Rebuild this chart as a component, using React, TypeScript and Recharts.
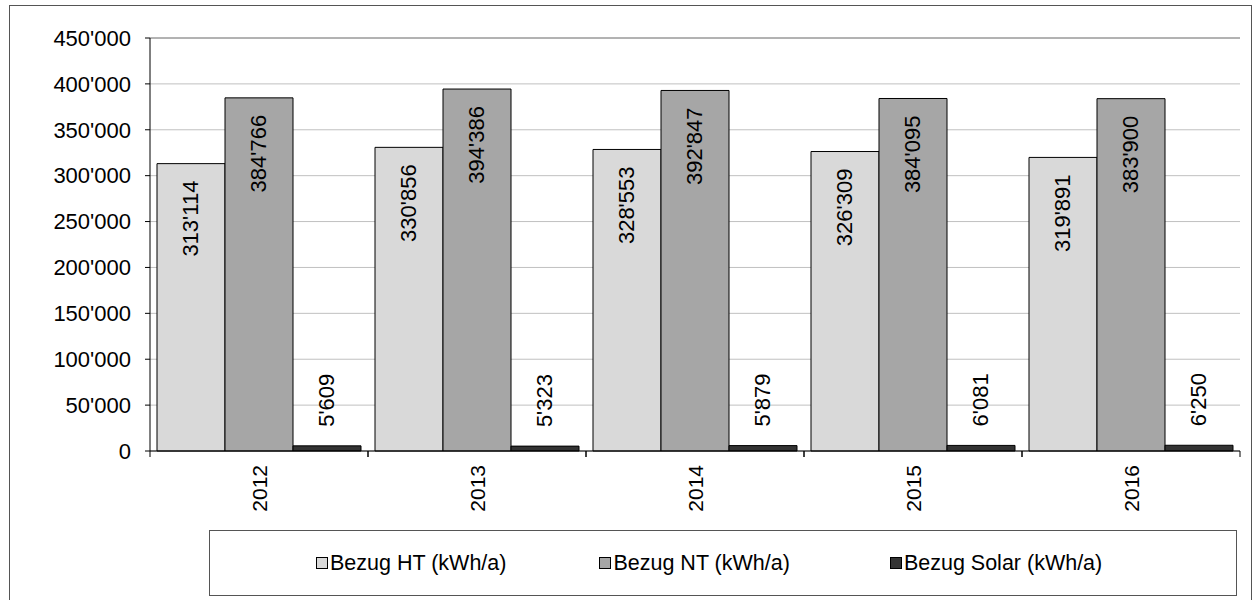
import React from "react";
import { BarChart, Bar, XAxis, YAxis, CartesianGrid, LabelList, ReferenceLine } from "recharts";

const years = ["2012", "2013", "2014", "2015", "2016"];
const bezugHT = [313114, 330856, 328553, 326309, 319891];
const bezugNT = [384766, 394386, 392847, 384095, 383900];
const bezugSolar = [5609, 5323, 5879, 6081, 6250];
const yTicks = [0, 50000, 100000, 150000, 200000, 250000, 300000, 350000, 400000, 450000];
const seriesKeys = ["ht", "nt", "solar"];
const seriesNames = ["Bezug HT (kWh/a)", "Bezug NT (kWh/a)", "Bezug Solar (kWh/a)"];
const seriesColors = ["#d9d9d9", "#a6a6a6", "#333333"];

const data = years.map((y, i) => ({ year: y, ht: bezugHT[i], nt: bezugNT[i], solar: bezugSolar[i] }));

const FONT = "'Liberation Sans', Arial, Helvetica, sans-serif";
const FS = 22;

const fmt = (v: number) => String(v).replace(/\B(?=(\d{3})+(?!\d))/g, "'");

const InsideLabel = (p: any) => {
  const cx = p.x + p.width / 2;
  const y = p.y + 17;
  return (
    <text x={cx} y={y} transform={`rotate(-90 ${cx} ${y})`} textAnchor="end" dominantBaseline="central" fontSize={FS} fontFamily={FONT} fill="#000">
      {fmt(p.value)}
    </text>
  );
};

const AboveLabel = (p: any) => {
  const cx = p.x + p.width / 2;
  const y = p.y - 19;
  return (
    <text x={cx} y={y} transform={`rotate(-90 ${cx} ${y})`} textAnchor="start" dominantBaseline="central" fontSize={FS} fontFamily={FONT} fill="#000">
      {fmt(p.value)}
    </text>
  );
};

const XTick = (p: any) => {
  const { x, y, payload } = p;
  const off = payload && typeof payload.offset === "number" ? payload.offset : 109;
  const ty = y + 14;
  return (
    <g>
      <line x1={x - off} x2={x - off} y1={y} y2={y + 6} stroke="#000" />
      <line x1={x + off} x2={x + off} y1={y} y2={y + 6} stroke="#000" />
      <text x={x} y={ty} transform={`rotate(-90 ${x} ${ty})`} textAnchor="end" dominantBaseline="central" fontSize={FS - 1} fontFamily={FONT} fill="#000">
        {payload.value}
      </text>
    </g>
  );
};

const legendGaps = [0, 93, 100];

export default function App() {
  return (
    <div style={{ position: "absolute", left: 0, top: 0, width: 1255, height: 600, background: "#fff", overflow: "hidden" }}>
      <div style={{ position: "absolute", left: 9, top: 5, width: 1243, height: 620, border: "1px solid #555", boxSizing: "border-box" }} />
      <BarChart
        width={1255}
        height={600}
        data={data}
        margin={{ top: 38, right: 15, bottom: 0, left: 0 }}
        barCategoryGap={7}
        barGap={0}
      >
        <CartesianGrid vertical={false} stroke="#c0c0c0" />
        <ReferenceLine y={450000} stroke="#868686" />
        <XAxis
          dataKey="year"
          height={149}
          tickLine={false}
          tickSize={0}
          tickMargin={0}
          axisLine={{ stroke: "#000" }}
          tick={<XTick />}
          interval={0}
        />
        <YAxis
          width={150}
          domain={[0, 450000]}
          ticks={yTicks}
          tickFormatter={fmt}
          tickSize={5}
          tickMargin={14}
          axisLine={{ stroke: "#000" }}
          tickLine={{ stroke: "#000" }}
          tick={{ fontSize: FS, fontFamily: FONT, fill: "#000" }}
          interval={0}
        />
        <YAxis yAxisId="right" orientation="right" width={0} domain={[0, 450000]} tick={false} tickLine={false} axisLine={{ stroke: "#868686" }} />
        <Bar dataKey="ht" name={seriesNames[0]} fill={seriesColors[0]} stroke="#000" strokeWidth={1} isAnimationActive={false}>
          <LabelList dataKey="ht" content={<InsideLabel />} />
        </Bar>
        <Bar dataKey="nt" name={seriesNames[1]} fill={seriesColors[1]} stroke="#000" strokeWidth={1} isAnimationActive={false}>
          <LabelList dataKey="nt" content={<InsideLabel />} />
        </Bar>
        <Bar dataKey="solar" name={seriesNames[2]} fill={seriesColors[2]} stroke="#000" strokeWidth={1} isAnimationActive={false}>
          <LabelList dataKey="solar" content={<AboveLabel />} />
        </Bar>
      </BarChart>
      <div
        style={{
          position: "absolute",
          left: 209,
          top: 530,
          width: 1028,
          height: 66,
          border: "1px solid #555",
          boxSizing: "border-box",
          display: "flex",
          alignItems: "center",
          justifyContent: "flex-start",
          paddingLeft: 106,
          fontFamily: FONT,
          fontSize: FS - 0.5,
          color: "#000",
        }}
      >
        {seriesKeys.map((k, i) => (
          <div key={k} style={{ display: "flex", alignItems: "center", marginLeft: legendGaps[i] }}>
            <span style={{ display: "inline-block", width: 10, height: 10, background: seriesColors[i], border: "1px solid #000", marginRight: 2 }} />
            <span>{seriesNames[i]}</span>
          </div>
        ))}
      </div>
    </div>
  );
}
